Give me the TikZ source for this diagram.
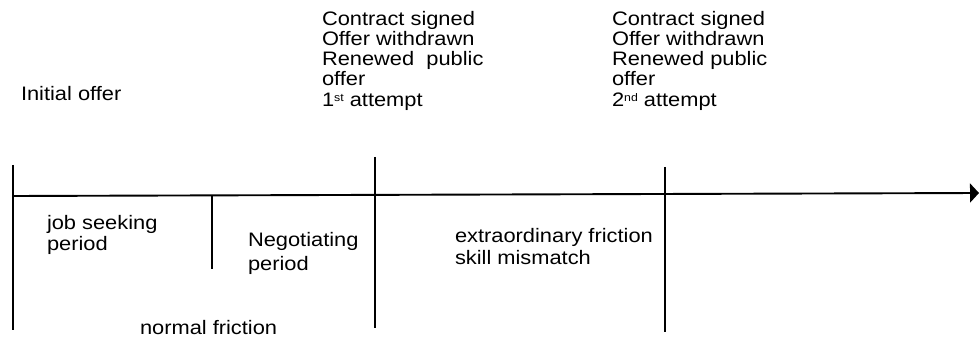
\documentclass[tikz,border=0pt]{standalone}
\usepackage{fontspec}
\setmainfont{Liberation Sans}[FakeStretch=1.12]
\usetikzlibrary{arrows.meta}
\newcommand{\supx}[1]{\raisebox{0.55ex}{\fontsize{11}{11}\selectfont #1}}
\begin{document}
\begin{tikzpicture}[x=1pt,y=1pt,
  lbl/.style={inner sep=0pt,outer sep=0pt,anchor=base west,text height=14pt,text depth=3.5pt,font=\fontsize{19.5}{20}\selectfont},
  tick/.style={line width=1.7pt}]
\useasboundingbox (0,0) rectangle (979,-339);
% axis
\coordinate (a0) at (13,-196);
\coordinate (a1) at (979,-193);
\draw[line width=1.9pt,-{Triangle[length=9pt,width=19pt]}] (a0) -- (a1);
% vertical lines
\coordinate (v1t) at (13,-165);  \coordinate (v1b) at (13,-330);
\coordinate (v2t) at (212,-195); \coordinate (v2b) at (212,-269);
\coordinate (v3t) at (375,-157); \coordinate (v3b) at (375,-328);
\coordinate (v4t) at (665,-167); \coordinate (v4b) at (665,-332);
\draw[tick] (v1t) -- (v1b);
\draw[tick] (v2t) -- (v2b);
\draw[tick] (v3t) -- (v3b);
\draw[tick] (v4t) -- (v4b);
% labels
\node[lbl] (init) at (21,-101) {Initial offer};
\node[lbl] (c1a) at (322,-26) {Contract signed};
\node[lbl] (c1b) at (322,-46) {Offer withdrawn};
\node[lbl] (c1c) at (322,-66) {Renewed\ \ public};
\node[lbl] (c1d) at (322,-86) {offer};
\node[lbl] (c1e) at (322,-107) {1\supx{st} attempt};
\node[lbl] (c2a) at (612,-26) {Contract signed};
\node[lbl] (c2b) at (612,-46) {Offer withdrawn};
\node[lbl] (c2c) at (612,-66) {Renewed public};
\node[lbl] (c2d) at (612,-86) {offer};
\node[lbl] (c2e) at (612,-107) {2\supx{nd} attempt};
\node[lbl] (js1) at (47,-229) {job seeking};
\node[lbl] (js2) at (47,-250) {period};
\node[lbl] (ng1) at (248,-246) {Negotiating};
\node[lbl] (ng2) at (248,-270) {period};
\node[lbl] (ex1) at (455,-242) {extraordinary friction};
\node[lbl] (ex2) at (455,-264) {skill mismatch};
\node[lbl] (nf) at (140,-334) {normal friction};
\end{tikzpicture}
\end{document}
